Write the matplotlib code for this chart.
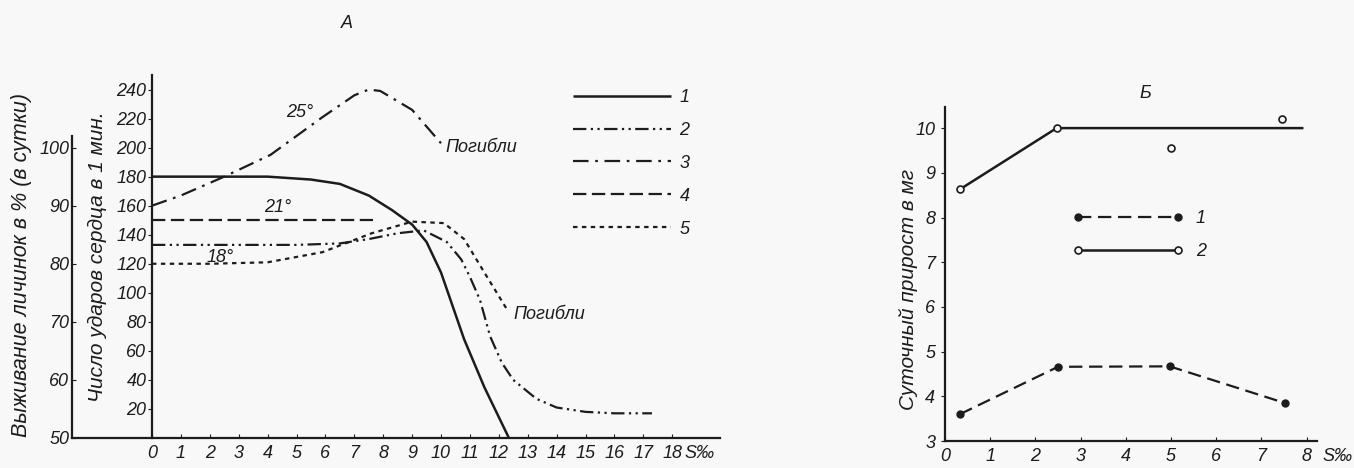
import numpy as np
import matplotlib.pyplot as plt

# ===============================
# Data
# ===============================
# panel A: heart rate (beats / min) vs salinity S‰
salinity_ticks = list(range(0, 19))

curve1_x = [0, 4, 5.5, 6.5, 7.5, 8.3, 9, 9.5, 10, 10.8, 11.5, 12.35]
curve1_y = [180, 180, 178, 175, 167, 157, 147, 135, 114, 68, 35, 0]

curve2_x = [0, 5, 6.5, 7.5, 8.5, 9.4, 10.2, 10.7, 11, 11.35, 11.7, 12.1,
            12.5, 13.3, 14, 15, 16, 17.3]
curve2_y = [133, 133, 134, 137, 141, 143, 135, 123, 111, 95, 70, 52,
            40, 27, 21, 18, 17, 17]

curve3_x = [0, 1, 2.5, 4.1, 5.9, 7, 7.5, 7.9, 9, 10]
curve3_y = [160, 167, 180, 195, 221, 236, 240, 239, 226, 203]

curve4_x = [0, 7.65]
curve4_y = [150, 150]

curve5_x = [0, 2, 4, 5.9, 7.6, 9, 10.1, 10.8, 11.5, 12.3]
curve5_y = [120, 120, 121, 128, 141, 149, 148, 137, 114, 88]

heart_ticks = list(range(20, 241, 20))
survival_ticks = [50, 60, 70, 80, 90, 100]
curve_labels = ["1", "2", "3", "4", "5"]

# panel Б: daily growth (mg) vs salinity
growth_ticks_x = list(range(0, 9))
growth_ticks_y = list(range(3, 11))

growth1_x = [0.33, 2.5, 4.97, 7.52]
growth1_y = [3.6, 4.66, 4.67, 3.85]

growth2_x = [0.33, 2.47, 4.99, 7.45]
growth2_y = [8.63, 10.0, 9.55, 10.2]
growth2_fit_x = [0.33, 2.47, 7.93]
growth2_fit_y = [8.63, 10.0, 10.0]

# ===============================
# Style
# ===============================
plt.rcParams["font.family"] = ["Liberation Sans", "DejaVu Sans"]
plt.rcParams["font.style"] = "italic"
INK = "#1c1c1c"
BG = "#f8f8f8"
TICK_FS = 13

W, H = 1354, 468
fig = plt.figure(figsize=(W / 100, H / 100), dpi=100, facecolor=BG)


def fx(px):
    return px / W


def fy(py):
    return 1 - py / H


styles = [
    dict(linestyle="-", lw=1.8),
    dict(linestyle=(0, (6, 2, 1, 2, 1, 2)), lw=1.6),
    dict(linestyle=(0, (7, 3, 1.2, 3)), lw=1.6),
    dict(linestyle=(0, (6, 2.5)), lw=1.6),
    dict(linestyle=(0, (2, 2)), lw=1.6),
]

# ===============================
# Panel A
# ===============================
ax = fig.add_axes([fx(72), fy(438), fx(720) - fx(72), fy(75) - fy(438)])
ax.set_facecolor("none")

curves = [(curve1_x, curve1_y), (curve2_x, curve2_y), (curve3_x, curve3_y),
          (curve4_x, curve4_y), (curve5_x, curve5_y)]
for (cx, cy), st, lab in zip(curves, styles, curve_labels):
    ax.plot(cx, cy, color=INK, label=lab, solid_capstyle="butt", **st)

for side in ["top", "right"]:
    ax.spines[side].set_visible(False)
ax.spines["left"].set_position(("data", 0))
ax.spines["left"].set_bounds(0, 250)
for side in ["left", "bottom"]:
    ax.spines[side].set_linewidth(1.6)
    ax.spines[side].set_color(INK)

ax.set_xticks(salinity_ticks)
ax.set_xticklabels([str(t) for t in salinity_ticks])
ax.set_yticks(heart_ticks)
ax.set_yticklabels([str(t) for t in heart_ticks])
ax.set_xlim(-80 / 28.9, 568 / 28.9)
ax.set_ylim(0, 250)
ax.tick_params(axis="x", direction="in", length=3, pad=5,
               labelsize=TICK_FS, colors=INK)
ax.tick_params(axis="y", direction="out", length=3, pad=1,
               labelsize=TICK_FS, colors=INK)
# unit label in the tick row, after 18
ax.annotate("S‰", xy=(18.96, 0), xycoords=("data", "axes fraction"),
            xytext=(0, -5), textcoords="offset points", ha="center",
            va="top", fontsize=TICK_FS, color=INK, annotation_clip=False)

ax.text(5.1, 224, "25°", fontsize=13, ha="center", va="center", color=INK)
ax.text(4.35, 159, "21°", fontsize=13, ha="center", va="center", color=INK)
ax.text(2.35, 124, "18°", fontsize=13, ha="center", va="center", color=INK)
ax.text(10.15, 200, "Погибли", fontsize=13, ha="left", va="center", color=INK)
ax.text(12.5, 85, "Погибли", fontsize=13, ha="left", va="center", color=INK)

ax.legend(loc="upper left", bbox_to_anchor=(fx(573), fy(89)),
          bbox_transform=fig.transFigure, frameon=False, borderpad=0,
          borderaxespad=0, handlelength=5.4, handletextpad=0.5,
          labelspacing=0.88, fontsize=13, labelcolor=INK)

# survival axis (shares the vertical scale: survival = 50 + beats / 4)
ax2 = ax.twinx()
ax2.yaxis.tick_left()
for side in ["top", "right", "bottom"]:
    ax2.spines[side].set_visible(False)
ax2.spines["left"].set_visible(True)
ax2.spines["left"].set_position(("axes", 0))
ax2.spines["left"].set_bounds(50, 102)
ax2.spines["left"].set_linewidth(1.6)
ax2.spines["left"].set_color(INK)
ax2.set_yticks(survival_ticks)
ax2.set_yticklabels([str(t) for t in survival_ticks])
ax2.set_ylim(50, 50 + 250 / 4)
ax2.tick_params(axis="y", direction="in", length=3, pad=2,
                labelsize=TICK_FS, colors=INK)

fig.text(fx(22), fy(265), "Выживание личинок в % (в сутки)", rotation=90,
         ha="center", va="center", fontsize=15.5, color=INK)
fig.text(fx(97), fy(257), "Число ударов сердца в 1 мин.", rotation=90,
         ha="center", va="center", fontsize=15, color=INK)
fig.text(fx(347), fy(23), "A", ha="center", va="center", fontsize=13,
         color=INK)

# ===============================
# Panel Б
# ===============================
bx = fig.add_axes([fx(945), fy(441), fx(1317) - fx(945), fy(107) - fy(441)])
bx.set_facecolor("none")

bx.plot(growth1_x, growth1_y, color=INK, lw=1.6, linestyle=(0, (6, 3)),
        marker="o", markersize=5, markerfacecolor=INK)
bx.plot(growth2_fit_x, growth2_fit_y, color=INK, lw=1.8,
        solid_capstyle="butt")
bx.plot(growth2_x, growth2_y, linestyle="none", marker="o", markersize=5,
        markerfacecolor=BG, markeredgecolor=INK, markeredgewidth=1.2)

# legend handles for Б
h1, = bx.plot([], [], color=INK, lw=1.6, linestyle=(0, (6, 3)), marker="o",
              markersize=5, markerfacecolor=INK)
h2, = bx.plot([], [], color=INK, lw=1.8, marker="o", markersize=5,
              markerfacecolor=BG, markeredgecolor=INK, markeredgewidth=1.2)
bx.legend([h1, h2], ["1", "2"], loc="upper left",
          bbox_to_anchor=(fx(1073), fy(210)), bbox_transform=fig.transFigure,
          frameon=False, borderpad=0, borderaxespad=0, numpoints=2,
          handlelength=6.1, handletextpad=0.7, labelspacing=0.9, fontsize=13,
          labelcolor=INK)

for side in ["top", "right"]:
    bx.spines[side].set_visible(False)
for side in ["left", "bottom"]:
    bx.spines[side].set_linewidth(1.6)
    bx.spines[side].set_color(INK)
bx.set_xticks(growth_ticks_x)
bx.set_xticklabels([str(t) for t in growth_ticks_x])
bx.set_yticks(growth_ticks_y)
bx.set_yticklabels([str(t) for t in growth_ticks_y])
bx.set_xlim(0, 372 / 45.2)
bx.set_ylim(3, 3 + 334 / 44.7)
bx.tick_params(axis="x", direction="in", length=3, pad=5,
               labelsize=TICK_FS, colors=INK)
bx.tick_params(axis="y", direction="out", length=3, pad=4,
               labelsize=TICK_FS, colors=INK)
bx.annotate("S‰", xy=(8.68, 0), xycoords=("data", "axes fraction"),
            xytext=(0, -5), textcoords="offset points", ha="center",
            va="top", fontsize=TICK_FS, color=INK, annotation_clip=False)

fig.text(fx(908), fy(290), "Суточный прирост в мг", rotation=90,
         ha="center", va="center", fontsize=15, color=INK)
fig.text(fx(1145), fy(93), "Б", ha="center", va="center", fontsize=13,
         color=INK)

fig.savefig("out.png", dpi=100, facecolor=BG)
